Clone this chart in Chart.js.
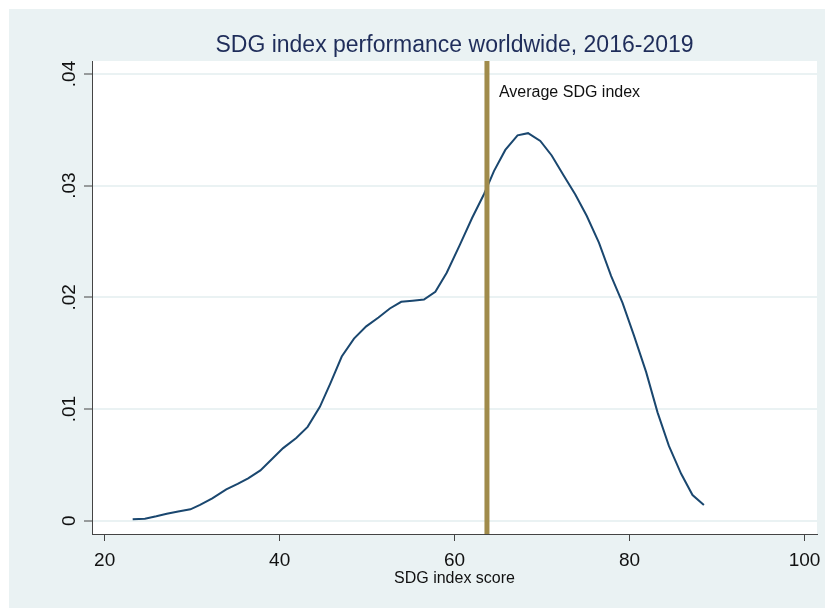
<!DOCTYPE html>
<html>
<head>
<meta charset="utf-8">
<script src="https://cdn.jsdelivr.net/npm/chart.js@4/dist/chart.umd.min.js"></script>
<style>
  html, body { margin: 0; padding: 0; background: #ffffff; }
  #wrap { position: absolute; left: 9px; top: 9px; width: 816px; height: 599px; background: #eaf2f3; }
</style>
</head>
<body>
<div id="wrap"><canvas id="chart" width="816" height="599"></canvas></div>
<script>
// kernel density
const densityX = [23.2, 24.6, 25.9, 27.1, 28.4, 29.8, 30.9, 32.3, 33.9, 35.2,
  36.4, 37.8, 39.1, 40.4, 41.9, 43.2, 44.6, 45.8, 47.1, 48.5,
  49.9, 51.3, 52.6, 53.9, 55.2, 56.5, 57.8, 59.1, 60.6, 62.0,
  63.4, 64.5, 65.8, 67.2, 68.4, 69.8, 71.1, 72.4, 73.8, 75.1,
  76.5, 77.9, 79.2, 80.5, 81.9, 83.2, 84.5, 85.9, 87.2, 88.5]
const densityY = [0.00012, 0.00018, 0.0004, 0.00063, 0.00082, 0.00102, 0.00141, 0.0020, 0.0028, 0.0033,
  0.0038, 0.0045, 0.0055, 0.0065, 0.0074, 0.0084, 0.0102, 0.0123, 0.0147, 0.0163,
  0.0174, 0.0182, 0.0190, 0.0196, 0.0197, 0.0198, 0.0205, 0.0222, 0.0247, 0.0271,
  0.0293, 0.0313, 0.0332, 0.0345, 0.0347, 0.0340, 0.0327, 0.0310, 0.0292, 0.0273,
  0.0249, 0.0219, 0.0195, 0.0166, 0.0133, 0.0097, 0.0067, 0.0042, 0.0023, 0.0014]

const avgScore = 63.7
const avgLabel = 'Average SDG index'
const chartTitle = 'SDG index performance worldwide, 2016-2019'

const xTicks = [20, 40, 60, 80, 100]
const yTicks = [0, 0.01, 0.02, 0.03, 0.04]
const yTickLabels = ['0', '.01', '.02', '.03', '.04']

const xRange = [18.55, 101.43]
const yRange = [-0.00119, 0.04116]

const font = '"Liberation Sans", Arial, sans-serif'
const axisColor = '#444444'

const plotBackground = {
  id: 'plotBackground',
  beforeDraw(chart) {
    const { ctx, chartArea: a } = chart
    ctx.save()
    ctx.fillStyle = '#ffffff'
    ctx.fillRect(a.left, a.top, a.right - a.left, a.bottom - a.top)
    ctx.restore()
  }
}

const lineLabel = {
  id: 'lineLabel',
  afterDatasetsDraw(chart) {
    const { ctx, scales } = chart
    ctx.save()
    ctx.font = '16px ' + font
    ctx.fillStyle = '#111111'
    ctx.textBaseline = 'middle'
    ctx.textAlign = 'left'
    ctx.fillText(avgLabel, scales.x.getPixelForValue(avgScore) + 12, scales.y.getPixelForValue(0.0383))
    ctx.restore()
  }
}

// no extra room for the end tick labels, the margins are set by hand
const noEdgePadding = s => { s.paddingLeft = 0; s.paddingRight = 0 }

new Chart(document.querySelector('#chart'), {
  type: 'scatter',
  data: {
    datasets: [
      {
        label: avgLabel,
        xAxisID: 'x',
        yAxisID: 'y',
        data: [{ x: avgScore, y: yRange[0] }, { x: avgScore, y: yRange[1] }],
        showLine: true,
        borderColor: '#a08b4b',
        borderWidth: 5,
        pointRadius: 0
      },
      {
        label: 'density',
        xAxisID: 'x',
        yAxisID: 'y',
        data: densityX.map((x, i) => ({ x, y: densityY[i] })),
        showLine: true,
        borderColor: '#1a476f',
        borderWidth: 2,
        tension: 0,
        pointRadius: 0
      }
    ]
  },
  options: {
    responsive: false,
    animation: false,
    devicePixelRatio: 1,
    layout: { padding: { left: 0, right: 8, top: 0, bottom: 0 } },
    plugins: {
      legend: { display: false },
      tooltip: { enabled: false },
      title: { display: false }
    },
    scales: {
      x: {
        type: 'linear',
        position: 'bottom',
        min: xRange[0],
        max: xRange[1],
        afterBuildTicks: s => { s.ticks = xTicks.map(v => ({ value: v })) },
        afterFit: s => { s.height = 74; noEdgePadding(s) },
        ticks: {
          color: '#111111',
          font: { family: font, size: 19 },
          padding: 8.6,
          maxRotation: 0
        },
        grid: {
          drawOnChartArea: false,
          drawTicks: true,
          tickLength: 7,
          tickColor: axisColor,
          tickWidth: 1
        },
        border: { display: true, color: axisColor, width: 1 },
        title: {
          display: true,
          text: 'SDG index score',
          color: '#111111',
          font: { family: font, size: 16 },
          padding: { top: 0, bottom: 19.4 }
        }
      },
      y: {
        type: 'linear',
        min: yRange[0],
        max: yRange[1],
        afterBuildTicks: s => { s.ticks = yTicks.map(v => ({ value: v })) },
        afterFit: s => { s.width = 83 },
        ticks: {
          color: '#111111',
          font: { family: font, size: 19 },
          padding: 1,
          minRotation: 90,
          maxRotation: 90,
          crossAlign: 'center',
          callback: (v) => yTickLabels[yTicks.indexOf(v)] ?? ''
        },
        grid: {
          color: '#eaf2f3',
          lineWidth: 2,
          drawTicks: true,
          tickLength: 8,
          tickColor: axisColor,
          tickWidth: 1
        },
        border: { display: true, color: axisColor, width: 1 }
      },
      // top axis only carries the title, so it is centred over the plot
      top: {
        type: 'linear',
        position: 'top',
        axis: 'x',
        min: 0,
        max: 1,
        afterFit: s => { s.height = 52; noEdgePadding(s) },
        ticks: { display: false },
        grid: { display: false },
        border: { display: false },
        title: {
          display: true,
          text: chartTitle,
          color: '#1f2d5a',
          font: { family: font, size: 23, weight: 'normal' },
          padding: { top: 22.5, bottom: 0 }
        }
      }
    }
  },
  plugins: [plotBackground, lineLabel]
})
</script>
</body>
</html>
